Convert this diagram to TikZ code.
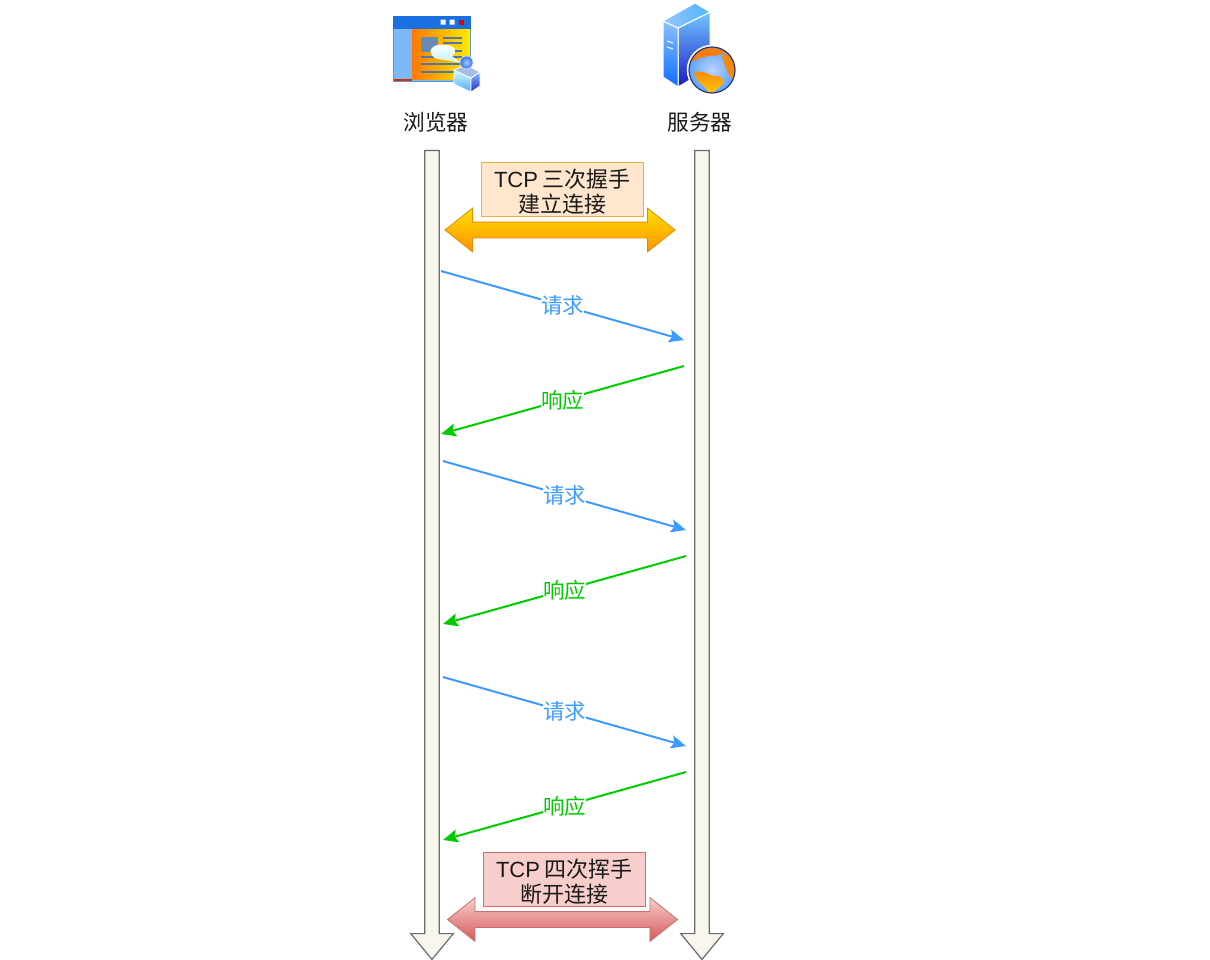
\documentclass[tikz,border=0pt]{standalone}
\usepackage{fontspec}
\setmainfont{Noto Sans CJK SC}
\newfontfamily\latinfont{Liberation Sans}
\usetikzlibrary{arrows.meta,shapes.arrows}
\definecolor{ink}{HTML}{1A1A1A}
\definecolor{request}{HTML}{3D9BFF}
\definecolor{response}{HTML}{00CC00}
\definecolor{linefill}{HTML}{F9F7ED}
\definecolor{linedraw}{HTML}{6A6A6A}
\definecolor{winblue}{HTML}{1A70E0}
\definecolor{panelblue}{HTML}{7DB8F8}
\definecolor{rowblue}{HTML}{4A78A8}
\definecolor{globeland}{HTML}{F5A010}
\definecolor{openfill}{HTML}{FFE6CC}
\definecolor{opendraw}{HTML}{E8B040}
\definecolor{closefill}{HTML}{F8CECC}
\definecolor{closedraw}{HTML}{C87070}
\newcommand\boxstrut{\rule{0pt}{23pt}}
\tikzset{
  lifeline/.style={single arrow,rotate=-90,draw=linedraw,fill=linefill,line width=1.2pt,
    inner sep=6.7pt,minimum width=42pt,minimum height=809pt,
    single arrow head extend=14pt,single arrow tip angle=79},
  bothways/.style={double arrow,inner sep=7.5pt,minimum height=230pt,minimum width=43pt,
    double arrow head extend=14pt,double arrow tip angle=77,line width=.8pt},
  stagebox/.style={draw,line width=1.4pt,align=center,text=ink,inner sep=0pt,
    minimum width=162pt,minimum height=54pt,font=\fontsize{22}{25.5}\selectfont},
  actor/.style={text=ink,font=\fontsize{21.7}{26}\selectfont},
  msg/.style={line width=2pt,-{Stealth[length=15pt,width=13pt,inset=3pt]}},
  msglabel/.style={fill=white,inner sep=0pt,font=\fontsize{21.5}{26}\selectfont}
}
\begin{document}
\begin{tikzpicture}[x=1pt,y=-1pt]
  \useasboundingbox (0,0) rectangle (1210,959);

  % browser icon
  \fill[draw=cyan!60!blue!70,line width=1pt,fill=panelblue] (393.5,16.5) rectangle (470.5,81.5);
  \shade[left color=orange!95!red,right color=yellow!85!orange] (412,29) rectangle (470,79);
  \fill[red!50!orange!80!black] (394,79) rectangle (412,81);
  \fill[winblue] (393,16) rectangle (471,29);
  \fill[white] (440.5,19.5) rectangle (445.5,24.5) (449.5,19.5) rectangle (454.5,24.5);
  \fill[red!90!black] (458.5,19.5) rectangle (463.5,24.5);
  \fill[rowblue!85!white] (421,37) rectangle (438,52);
  \foreach \y in {38,43,51} \draw[rowblue,line width=1.2pt] (443,\y) -- (462,\y);
  \foreach \y in {57,64,72} \draw[rowblue,line width=1.2pt] (421,\y) -- (462,\y);
  \shade[top color=white,bottom color=blue!25!cyan!25,draw=white,line width=.8pt]
    (442,45) .. controls (456,45) and (458,52) .. (451,56) -- (459,62) -- (444,59)
    .. controls (428,60) and (426,45) .. (442,45);
  \shade[top color=cyan!15!white,bottom color=blue!50!cyan!70,draw=white,line width=.8pt]
    (454,70) -- (471,78) -- (471,92) -- (454,84) -- cycle;
  \shade[top color=blue!50!cyan!50,bottom color=blue!70!black!85,draw=white,line width=.8pt]
    (471,78) -- (480,72) -- (480,86) -- (471,92) -- cycle;
  \fill[cyan!50!blue!35,draw=white,line width=.8pt] (454,70) -- (466,65) -- (480,72) -- (471,78) -- cycle;
  \shade[inner color=cyan!40!blue!35,outer color=blue!70!cyan!80,draw=white] (466.5,62.5) circle (6.5);

  % server icon
  \shade[top color=blue!40!cyan!55,bottom color=blue!75!black!90,draw=white,line width=1pt]
    (678,28) -- (710,12) -- (710,68) -- (678,87) -- cycle;
  \shade[top color=cyan!45!blue!45,bottom color=blue!60!cyan!95,draw=white,line width=1pt]
    (663,21) -- (678,28) -- (678,87) -- (663,77) -- cycle;
  \shade[left color=cyan!40!blue!40,right color=cyan!60!blue!70,draw=white,line width=1pt]
    (663,21) -- (695,3) -- (710,12) -- (678,28) -- cycle;
  \draw[white,line width=1pt] (667,41) -- (673,43) (667,47) -- (673,49);
  \draw[white,line width=1.5pt,fill=white] (712,70) circle (24.5);
  \shade[inner color=cyan!30!blue!25,outer color=blue!55!cyan!65] (712,70) circle (23);
  \begin{scope}
    \clip (712,70) circle (23);
    \fill[globeland!80!red] (690,58) .. controls (698,48) and (715,44) .. (726,53) -- (714,56)
      .. controls (706,54) and (702,60) .. (698,58) .. controls (696,62) and (692,62) .. (690,58);
    \fill[globeland!85!red] (722,56) -- (736,50) -- (736,80) -- (730,77) -- (725,66) -- cycle;
    \shade[top color=globeland!85!red,bottom color=yellow!60!orange] (694,72) .. controls (702,70) and (708,74) .. (713,76)
      .. controls (718,74) and (724,78) .. (724,83) .. controls (718,88) and (716,92) .. (708,94)
      .. controls (708,86) and (696,84) .. (694,72);
  \end{scope}
  \draw[blue!30!black!80,line width=1.2pt] (712,70) circle (23);

  \node[actor] (browser) at (436,122) {浏览器};
  \node[actor] (server) at (700,122) {服务器};

  \node[lifeline] (browserline) at (432,550.5) {};
  \node[lifeline] (serverline) at (702,550.5) {};

  \node[bothways,top color=yellow!75!orange,bottom color=orange!85!yellow,draw=orange!80!yellow!90!black] (connect) at (560,230) {};
  \node[stagebox,draw=opendraw,fill=openfill] (handshake) at (562.5,189.5) {\boxstrut{\latinfont TCP} 三次握手\\建立连接};

  \node[bothways,top color=closefill,bottom color=closedraw!80!red,draw=closedraw] (disconnect) at (562.5,919.5) {};
  \node[stagebox,draw=closedraw,fill=closefill] (wavehand) at (564.5,879.5) {\boxstrut{\latinfont TCP} 四次挥手\\断开连接};

  % request and response pairs
  \foreach \n/\xa/\xb/\ya in {a/441/684/271,b/443/686/461,c/443/686/677}{
    \coordinate (req\n s) at (\xa,\ya);
    \coordinate (req\n e) at (\xb,\ya+69);
    \coordinate (res\n s) at (\xb,\ya+95);
    \coordinate (res\n e) at (\xa,\ya+163);
    \draw[msg,request] (req\n s) -- node[msglabel,text=request,pos=.5] (reqlabel\n) {请求} (req\n e);
    \draw[msg,response] (res\n s) -- node[msglabel,text=response,pos=.5] (reslabel\n) {响应} (res\n e);
  }
\end{tikzpicture}
\end{document}
